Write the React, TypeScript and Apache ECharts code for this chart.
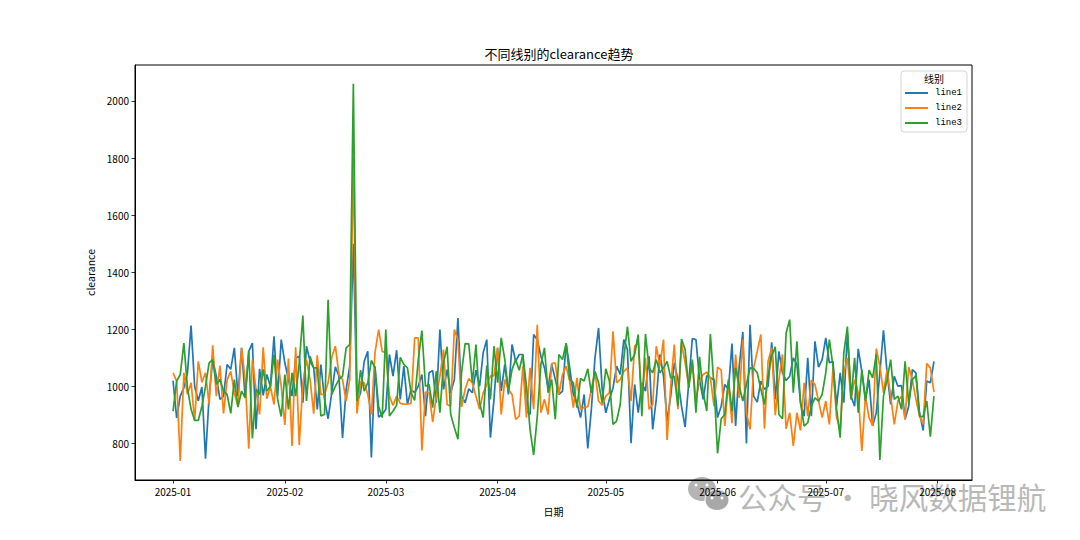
import React, { useEffect, useRef } from "react";
import * as echarts from "echarts";

const line1 = [
  1020,890,966,995,1048,1213,1000,950,998,747,
  966,1094,1036,955,966,1077,1060,1135,966,1135,
  960,1123,1152,850,1062,969,1042,1000,1176,966,
  1164,1083,1024,966,1100,1106,943,1141,1088,1065,
  920,1077,955,887,978,1069,1036,820,990,1071,
  1500,943,978,1088,1123,751,1071,893,902,920,
  1112,1036,1127,955,1071,937,990,978,1001,1042,
  896,1048,1056,943,1199,990,1059,978,1024,1240,
  966,943,992,978,1057,1001,1118,1164,821,955,
  1135,984,1077,972,1147,1088,1112,1112,914,902,
  1182,1164,1106,1065,995,1077,1024,972,984,1152,
  1065,972,943,891,972,783,920,1100,1205,990,
  908,955,995,1071,1042,1164,1129,801,1007,908,
  1013,984,1106,850,955,1112,1036,879,966,1083,
  1024,931,858,1013,1168,1164,1024,955,1038,1030,
  1024,891,931,1007,990,1150,862,1071,1191,800,
  1216,966,945,1019,990,1001,1155,955,1123,1048,
  1021,1036,1100,1077,943,896,1100,896,1158,1068,
  1094,1170,1083,1088,931,1048,943,1187,966,931,
  1132,1053,955,1024,862,908,1048,1197,1048,937,
  1036,1001,1003,885,931,1059,1048,908,846,1019,
  1013,1088,
];
const line2 = [
  1048,1019,739,1048,972,1013,880,1088,1015,1048,
  937,1144,966,1073,906,1024,1053,978,931,1135,
  1024,782,1094,990,902,1137,957,1000,937,1094,
  1000,865,1098,792,1137,795,1013,1094,1024,905,
  1109,972,972,1013,1102,1141,1042,1024,949,1024,
  1800,905,1016,1013,972,902,1118,1199,1123,1118,
  966,934,966,941,938,939,941,1170,1170,776,
  980,978,875,966,1036,1129,937,931,1199,1164,
  928,990,1028,1013,966,920,978,1007,1036,1038,
  1135,902,1024,990,972,885,896,1071,891,1065,
  920,1216,908,955,902,1080,1083,972,1042,1071,
  1019,926,1030,920,926,929,990,1053,949,934,
  966,978,1193,1013,1024,1053,1065,949,1141,1152,
  955,1100,920,937,1141,1071,1164,813,1001,1147,
  920,1152,1083,1001,1083,955,1019,1042,1050,1030,
  931,1068,1057,862,1013,871,1112,960,1164,908,
  850,1065,1123,1182,852,1088,1135,899,1024,1112,
  852,908,792,908,846,1013,896,1022,1007,949,
  891,949,867,1065,891,850,1048,1100,955,1024,
  978,774,966,891,862,1132,1071,978,1059,966,
  867,949,966,885,1068,1024,955,896,867,1080,
  1065,980,
];
const line3 = [
  914,1019,1042,1152,995,920,881,881,931,1000,
  1083,1094,1007,1024,984,972,906,1024,928,984,
  960,1123,818,990,972,1060,984,1000,1112,955,
  895,1042,920,1048,966,1083,1248,949,1106,1065,
  1065,897,902,1304,972,1000,1024,1036,1135,1147,
  2060,949,1057,984,1013,1091,1065,931,891,1199,
  897,914,934,1102,1077,1065,978,951,1094,1196,
  1001,1007,926,1053,908,1083,1139,902,856,815,
  1048,1150,1149,1013,1147,943,891,1073,955,1141,
  1013,1170,1094,984,1059,1094,1057,1112,1001,850,
  760,896,1077,1135,978,1024,885,1112,1094,1152,
  1024,1013,926,1028,1019,1062,978,1053,1013,943,
  1062,1019,867,879,937,1100,1210,1088,1112,1182,
  896,1184,1065,1048,1094,1048,1065,1088,1030,1036,
  931,1166,1129,995,1094,908,1104,978,914,1184,
  1001,766,887,902,1024,914,1065,1001,949,1007,
  1065,1063,1048,990,937,1036,1106,1139,902,887,
  1187,1234,978,1158,943,861,873,931,960,949,
  972,1048,1164,1071,920,821,1118,1210,955,1100,
  908,1059,949,1057,1030,1112,743,966,1024,1094,
  955,966,920,1088,943,1024,1038,896,894,949,
  824,966,
];
const yTicks = [800, 1000, 1200, 1400, 1600, 1800, 2000];
const monthLabels = ["2025-01","2025-02","2025-03","2025-04","2025-05","2025-06","2025-07","2025-08"];
const seriesNames = ["line1", "line2", "line3"];
const colors = ["#1f77b4", "#ff7f0e", "#2ca02c"];

const DAY = 86400000;
const start = Date.UTC(2025, 0, 1);
const monthDays = monthLabels.map((s) => (Date.parse(s + "-01T00:00:00Z") - start) / DAY);
const toPairs = (vals: number[]) => vals.map((v, i) => [i, v]);
const CJK = '"Noto Sans CJK SC"';

export default function App() {
  const ref = useRef<HTMLDivElement>(null);
  useEffect(() => {
    document.body.style.margin = "0";
    const chart = echarts.init(ref.current!, undefined, { renderer: "svg" });
    chart.setOption({
      animation: false,
      backgroundColor: "#fff",
      textStyle: { fontFamily: CJK },
      title: {
        text: "不同线别的clearance趋势",
        left: 554,
        top: 42,
        textAlign: "center",
        textStyle: { fontFamily: CJK, fontSize: 13, fontWeight: "normal", color: "#000" },
      },
      grid: { left: 135, right: 108, top: 65, bottom: 60, show: true, borderColor: "#000", borderWidth: 1, backgroundColor: "transparent" },
      xAxis: {
        type: "value",
        z: 5,
        min: -10.55,
        max: 221.55,
        name: "日期",
        nameLocation: "middle",
        nameGap: 26,
        nameTextStyle: { fontFamily: CJK, fontSize: 10, color: "#000" },
        splitLine: { show: false },
        axisLine: { show: true, onZero: false, lineStyle: { color: "#000", width: 1 } },
        axisTick: { show: true, length: 3.5, lineStyle: { color: "#000", width: 0.8 }, customValues: monthDays },
        axisLabel: {
          color: "#000",
          fontSize: 10,
          fontFamily: CJK,
          margin: 6,
          hideOverlap: false,
          customValues: monthDays,
          formatter: (v: number) => monthLabels[monthDays.indexOf(v)] ?? "",
        },
      },
      yAxis: {
        type: "value",
        min: 672.5,
        max: 2125.7,
        name: "clearance",
        nameLocation: "middle",
        nameGap: 34,
        nameTextStyle: { fontFamily: CJK, fontSize: 10.5, color: "#000" },
        splitLine: { show: false },
        axisLine: { show: true, onZero: false, lineStyle: { color: "#000", width: 1 } },
        axisTick: { show: true, length: 3.5, lineStyle: { color: "#000", width: 0.8 }, customValues: yTicks },
        axisLabel: { color: "#000", fontSize: 10, fontFamily: CJK, margin: 6, customValues: yTicks, formatter: (v: number) => String(v) },
      },
      legend: {
        orient: "vertical",
        right: 113,
        top: 71,
        data: seriesNames,
        icon: "rect",
        itemWidth: 23,
        itemHeight: 2,
        itemGap: 3,
        padding: [16, 5, 3, 4],
        backgroundColor: "#fff",
        borderColor: "#d5d5d5",
        borderWidth: 1,
        borderRadius: 3,
        z: 10,
        textStyle: { fontFamily: '"Liberation Mono"', fontSize: 9, color: "#000", padding: [0, 0, 0, 2], lineHeight: 12 },
      },
      series: [line1, line2, line3].map((vals, i) => ({
        name: seriesNames[i],
        type: "line",
        data: toPairs(vals),
        showSymbol: false,
        symbol: "none",
        lineStyle: { color: colors[i], width: 1.7 },
        itemStyle: { color: colors[i] },
        z: 2 + i,
      })),
      graphic: [
        { type: "text", x: 934, y: 73, z: 20, style: { text: "线别", fontFamily: CJK, fontSize: 10, fill: "#000", textAlign: "center" } },
        { type: "ellipse", z: -5, shape: { cx: 702, cy: 489, rx: 14, ry: 12 }, style: { fill: "#b4b4b4" } },
        { type: "ellipse", z: -4, shape: { cx: 717, cy: 500, rx: 12, ry: 10.5 }, style: { fill: "#a8a8a8", stroke: "#fff", lineWidth: 1 } },
        { type: "circle", z: -3, shape: { cx: 696, cy: 485, r: 1.5 }, style: { fill: "#fff" } },
        { type: "circle", z: -3, shape: { cx: 707, cy: 485, r: 1.5 }, style: { fill: "#fff" } },
        { type: "circle", z: -3, shape: { cx: 712, cy: 498, r: 1.5 }, style: { fill: "#fff" } },
        { type: "circle", z: -3, shape: { cx: 722, cy: 498, r: 1.5 }, style: { fill: "#fff" } },
        { type: "text", z: -5, x: 738, y: 481, style: { text: "公众号 · 晓风数据锂航", fontFamily: CJK, fontSize: 29.5, fill: "#b8b8b8" } },
      ],
    });
    return () => chart.dispose();
  }, []);
  return <div ref={ref} style={{ width: 1080, height: 540 }} />;
}
